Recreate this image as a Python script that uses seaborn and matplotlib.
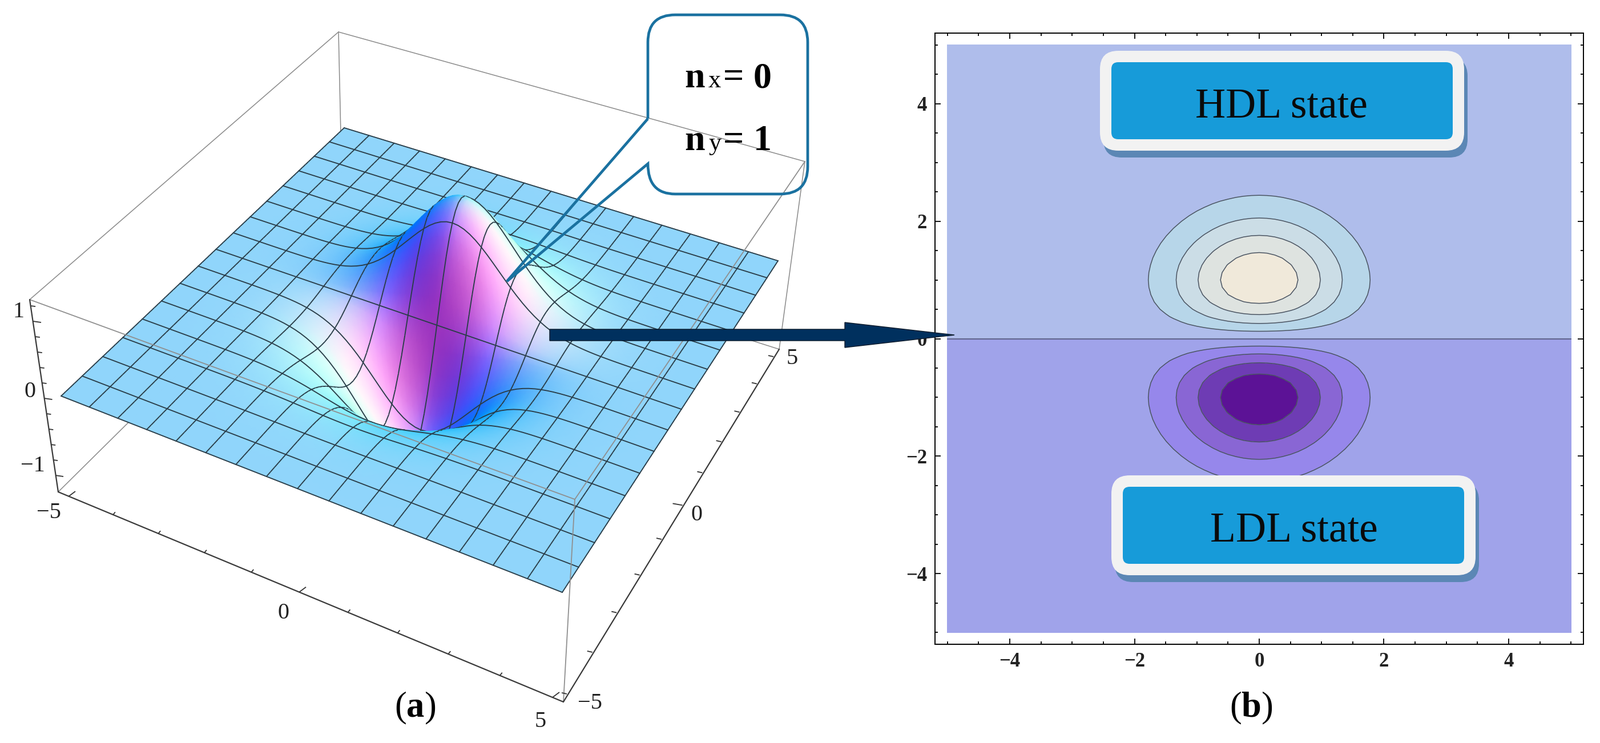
import numpy as np
import matplotlib
matplotlib.use("Agg")
import matplotlib.pyplot as plt
import seaborn as sns
from matplotlib.collections import LineCollection
from matplotlib.patches import FancyBboxPatch, PathPatch, FancyArrow
from matplotlib.path import Path
from matplotlib.ticker import FixedLocator, MultipleLocator

sns.set_theme(style="white")
plt.rcParams["font.family"] = ["Liberation Serif", "DejaVu Serif"]
plt.rcParams["mathtext.fontset"] = "custom"
plt.rcParams["mathtext.rm"] = "Liberation Serif"
plt.rcParams["mathtext.bf"] = "Liberation Serif:bold"

# wave function, on half an axis (the other half mirrors)
half_nodes = np.arange(41) * 0.125
profile_x_half = [
    1.0, .99222, .96923, .93210, .88250, .82258, .75484, .68194, .60653,
    .53108, .45783, .38855, .32465, .26705, .21627, .17242, .13534, .10459,
    .07956, .05958, .04394, .03191, .02279, .01603, .01111, .00758, .00509,
    .00336, .00219, .00140, .00088, .00055, .00034, .00020, .00012, .00007,
    .00004, .00002, .00001, .00001, .00001,
]
profile_y_half = [
    0.0, .12403, .24231, .34954, .44125, .51411, .56613, .59670, .60653,
    .59747, .57229, .53426, .48698, .43396, .37847, .32329, .27067, .22225,
    .17901, .14150, .10985, .08376, .06267, .04609, .03333, .02369, .01654,
    .01134, .00767, .00508, .00330, .00213, .00134, .00083, .00051, .00031,
    .00018, .00011, .00006, .00003, .00002,
]
contour_levels = [-1.0, -.5, -.375, -.25, -.125, 0, .125, .25, .375, .5, 1.0]
contour_colors = ["#5C1296", "#6E3CB4", "#8966D4", "#9687EB", "#A0A3EA",
                  "#AFBDEB", "#B7D6E9", "#CBDDE6", "#DEE3E0", "#F0E9DA"]
line_levels = [-.5, -.375, -.25, -.125, .125, .25, .375, .5]
b_ticks = [-4, -2, 0, 2, 4]
x3d_ticks = [-5, -4, -3, -2, -1, 0, 1, 2, 3, 4, 5]
z3d_ticks = [-1, -.8, -.6, -.4, -.2, 0, .2, .4, .6, .8, 1, 1.2]

MESH_EVERY = 5
Z_PIXELS = 290

fig = plt.figure(figsize=(28.03, 13.02), dpi=100)
W, H = 2803, 1302


def pixel_axes(zorder):
    ax = fig.add_axes([0, 0, 1, 1], zorder=zorder)
    ax.set_xlim(0, W)
    ax.set_ylim(H, 0)
    ax.axis("off")
    ax.patch.set_alpha(0)
    return ax


ax_a = pixel_axes(1)
ax_top = pixel_axes(3)

half = np.array(half_nodes)
nodes = np.concatenate((-half[:0:-1], half))
prof_x = np.concatenate((np.array(profile_x_half)[:0:-1], profile_x_half))
prof_y = np.concatenate((-np.array(profile_y_half)[:0:-1], profile_y_half))


# ----- panel a: plane mapping taken from the four corners of the sheet -----
def plane_matrix(src, dst):
    rows, rhs = [], []
    for (x, y), (u, v) in zip(src, dst):
        rows.append([x, y, 1, 0, 0, 0, -u * x, -u * y])
        rows.append([0, 0, 0, x, y, 1, -v * x, -v * y])
        rhs += [u, v]
    return np.append(np.linalg.solve(np.array(rows, float), rhs), 1).reshape(3, 3)


sheet = plane_matrix([(-5, -5), (5, -5), (5, 5), (-5, 5)],
                     [(107, 694), (985, 1038), (1363, 457), (603, 224)])
w_mid = sheet[2, 2]


def project(x, y, z):
    w = sheet[2, 0] * x + sheet[2, 1] * y + sheet[2, 2]
    u = (sheet[0, 0] * x + sheet[0, 1] * y + sheet[0, 2]) / w
    v = (sheet[1, 0] * x + sheet[1, 1] * y + sheet[1, 2]) / w
    return u, v - Z_PIXELS * z * w_mid / w


# far rows first so that nearer strips paint over them
y_desc = nodes[::-1]
XX, YY = np.meshgrid(nodes, y_desc)
ZZ = np.outer(prof_y[::-1], prof_x)
SX, SY = project(XX, YY, ZZ)

p = np.gradient(ZZ, nodes, axis=1)
q = np.gradient(ZZ, y_desc, axis=0)
# the lit colours react fast to small slopes on the wings of the hump
p = np.sign(p) * np.abs(p) ** .7 * .743
q = np.where(q < 0, -np.abs(q) ** .7 * .743, q)
a = 1.5
norm = np.sqrt(1 + (a * p) ** 2 + (a * q) ** 2)
red = 144 * (1 - 1.94 * a * p + .62 * a * q) / norm
green = 213 * (1 - .6 * a * p - .38 * a * q) / norm
blue = 300 * (1 + .093 * a * q) / norm
shade = np.clip(np.dstack((red, green, np.minimum(blue, 251), np.full(red.shape, 255.))) / 255, 0, 1)

mesh_color = "#2a3d48"
n = len(nodes)
for i in range(n - 1):
    z = 10 + 2 * i
    ax_a.pcolormesh(SX[i:i + 2], SY[i:i + 2], shade[i:i + 2], shading="gouraud", zorder=z)
    segs = [np.column_stack((SX[i:i + 2, j], SY[i:i + 2, j])) for j in range(0, n, MESH_EVERY)]
    if i % MESH_EVERY == 0:
        segs.append(np.column_stack((SX[i], SY[i])))
    if i == n - 2:
        segs.append(np.column_stack((SX[i + 1], SY[i + 1])))
    ax_a.add_collection(LineCollection(segs, colors=mesh_color, linewidths=1.35,
                                       capstyle="round", zorder=z + 1))

# box round the surface
box = {"A": (52, 525), "B": (593, 56), "C": (1410, 283), "D": (1007, 875),
       "E": (102, 862), "F": (987, 1230), "G": (1365, 612), "H": (600, 369)}


def edge(a_key, b_key, ax, color, lw, zorder):
    p0, p1 = box[a_key], box[b_key]
    sns.lineplot(x=[p0[0], p1[0]], y=[p0[1], p1[1]], ax=ax, color=color, linewidth=lw,
                 estimator=None, sort=False, zorder=zorder)


for a_key, b_key in [("A", "B"), ("B", "C"), ("B", "H"), ("E", "H"), ("C", "G"), ("G", "H")]:
    edge(a_key, b_key, ax_a, "#8a8a8a", 1.1, 2)
for a_key, b_key in [("A", "D"), ("C", "D"), ("D", "F")]:
    edge(a_key, b_key, ax_a, "#8f8f8f", 1.3, 500)
for a_key, b_key in [("A", "E"), ("E", "F"), ("F", "G")]:
    edge(a_key, b_key, ax_a, "#3a3a3a", 1.6, 501)


def ticks_3d(values, lo, hi, vlo, vhi, weight, major, long_dir, short_dir):
    segs = []
    for v in values:
        s = (v - vlo) / (vhi - vlo)
        t = s * weight / (s * weight + 1 - s)
        px = lo[0] + t * (hi[0] - lo[0])
        py = lo[1] + t * (hi[1] - lo[1])
        d = long_dir if v in major else short_dir
        segs.append([(px, py), (px + d[0], py + d[1])])
    ax_a.add_collection(LineCollection(segs, colors="#333333", linewidths=1.3, zorder=502))


ticks_3d(x3d_ticks, (120, 870), (968, 1222), -5, 5, .91, (-5, 0, 5), (12, -9), (4, -5))
ticks_3d(x3d_ticks, (993, 1216), (1355, 625), -5, 5, 1.27, (0,), (-17, -3), (-9, -2))
ticks_3d(z3d_ticks, (97, 833), (58, 563), -1, 1, 1, (-1, 0, 1), (14, 2), (8, 1))

label_3d = [("1", 32, 547), ("0", 52, 686), ("\u22121", 57, 816), ("\u22125", 86, 898),
            ("0", 496, 1075), ("5", 947, 1264), ("\u22125", 1034, 1232), ("0", 1221, 902),
            ("5", 1388, 628)]
for txt, tx, ty in label_3d:
    ax_a.text(tx, ty, txt, fontsize=29, color="#222222", ha="center", va="center", zorder=503)

# ----- panel b -----
ax_b = fig.add_axes([1638 / W, 1 - 1129 / H, (2774 - 1638) / W, (1129 - 58) / H], zorder=2)
ax_b.set_xlim(-5.2, 5.2)
ax_b.set_ylim(-5.2, 5.2)
ax_b.set_facecolor("white")
ZB = np.outer(prof_y, prof_x)
ax_b.contourf(nodes, nodes, ZB, levels=contour_levels, colors=contour_colors)
ax_b.contour(nodes, nodes, ZB, levels=line_levels, colors="#4a5462", linewidths=1.1,
             linestyles="solid")
sns.lineplot(x=[-5, 5], y=[0, 0], ax=ax_b, color="#62678f", linewidth=1.6,
             estimator=None, sort=False)
ax_b.xaxis.set_major_locator(FixedLocator(b_ticks))
ax_b.yaxis.set_major_locator(FixedLocator(b_ticks))
ax_b.xaxis.set_minor_locator(MultipleLocator(.5))
ax_b.yaxis.set_minor_locator(MultipleLocator(.5))
ax_b.tick_params(which="major", direction="in", top=True, right=True, bottom=True, left=True,
                 length=7, width=1.3, color="black", labelsize=25, pad=10)
ax_b.tick_params(which="minor", direction="in", top=True, right=True, bottom=True, left=True,
                 length=3.5, width=1.3, color="black")
ax_b.set_xticklabels(["\u22124", "\u22122", "0", "2", "4"], fontweight="bold", color="#222222")
ax_b.set_yticklabels(["\u22124", "\u22122", "0", "2", "4"], fontweight="bold", color="#222222")
for side in ax_b.spines.values():
    side.set_visible(True)
    side.set_color("black")
    side.set_linewidth(1.4)


# ----- labels, arrow, callout on top -----
def state_box(x0, x1, y0, y1, label, tx, ty):
    for dx, dy, pad, color, zo in [(6, 12, 0, "#5B87B5", 5), (0, 0, 0, "#F2F2F2", 6), (0, 0, 20, "#179BD9", 7)]:
        ax_top.add_patch(FancyBboxPatch(
            (x0 + dx + pad + 24, y0 + dy + pad + 24), x1 - x0 - 2 * pad - 48, y1 - y0 - 2 * pad - 48,
            boxstyle="round,pad=24,rounding_size=%d" % (32 if pad == 0 else 12),
            fc=color, ec="none", zorder=zo))
    ax_top.text(tx, ty, label, fontsize=53, color="#0a0a0a", ha="center", va="center", zorder=8)


state_box(1927, 2565, 89, 264, "HDL state", 2245, 188)
state_box(1947, 2585, 833, 1008, "LDL state", 2267, 931)

ax_top.add_patch(FancyArrow(963, 587, 709, 0, width=20, head_width=44, head_length=192,
                            length_includes_head=True, fc="#00305E", ec="#0a1a2a", lw=1.0, zorder=9))

L, R, T, B, rad = 1135, 1415, 26, 340, 48
tip = (888, 493)
verts = [(L, 208), (L, T + rad), (L, T), (L + rad, T), (R - rad, T), (R, T), (R, T + rad),
         (R, B - rad), (R, B), (R - rad, B), (L + rad, B), (L, B), (L, 287), tip, (L, 208)]
codes = [Path.MOVETO, Path.LINETO, Path.CURVE3, Path.CURVE3, Path.LINETO, Path.CURVE3, Path.CURVE3,
         Path.LINETO, Path.CURVE3, Path.CURVE3, Path.LINETO, Path.CURVE3, Path.CURVE3, Path.LINETO,
         Path.LINETO]
ax_top.add_patch(PathPatch(Path(verts, codes), fill=False, ec="#1A71A0", lw=3.4,
                           joinstyle="miter", zorder=10))

for sub, value, y_base in [("x", "0", 153), ("y", "1", 263)]:
    ax_top.text(1199, y_base, "n", fontsize=46, fontweight="bold", color="black", va="baseline", zorder=11)
    ax_top.text(1241, y_base, sub, fontsize=32, color="black", va="baseline", zorder=11)
    ax_top.text(1267, y_base, "=", fontsize=46, fontweight="bold", color="black", va="baseline", zorder=11)
    ax_top.text(1320, y_base, value, fontsize=46, fontweight="bold", color="black", va="baseline", zorder=11)

ax_top.text(727, 1241, r"($\mathbf{a}$)", fontsize=45, color="black", ha="center", va="center", zorder=11)
ax_top.text(2192, 1241, r"($\mathbf{b}$)", fontsize=45, color="black", ha="center", va="center", zorder=11)

fig.savefig("out.png", dpi=100)
